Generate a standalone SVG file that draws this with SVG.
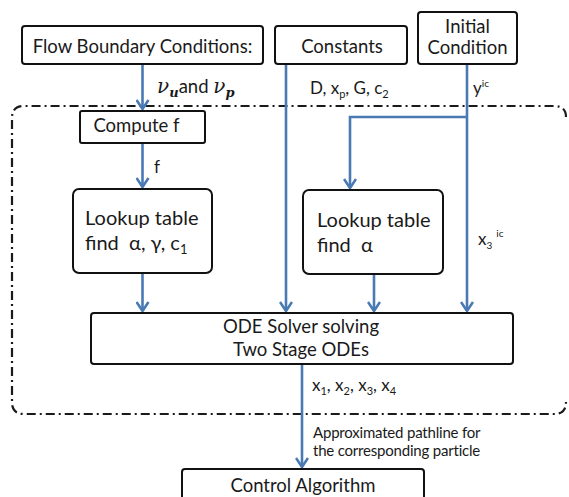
<svg xmlns="http://www.w3.org/2000/svg" width="569" height="497" viewBox="0 0 569 497">
  <defs>
    <style>
      .box { fill: #ffffff; stroke: #111111; stroke-width: 2; }
      .lbl { font-family: Lato, "Open Sans", sans-serif; fill: #1a1a1a; }
      .big { font-size: 18.5px; }
      .lookup { font-size: 20px; }
      .mid { font-size: 17px; }
      .small { font-size: 15px; }
      .math { font-family: "DejaVu Serif", "Liberation Serif", serif; font-style: italic; fill: #1a1a1a; }
      .wire { fill: none; stroke: #4a7ab4; stroke-width: 2.6; }
      .frame { fill: none; stroke: #1a1a1a; stroke-width: 2.2; stroke-dasharray: 9 4 2 4; }
    </style>
    <marker id="arrow" markerUnits="userSpaceOnUse" viewBox="0 0 12 14" refX="10" refY="7" markerWidth="12" markerHeight="14" orient="auto">
      <path d="M1,1 L10,7 L1,13" fill="none" stroke="#4a7ab4" stroke-width="2.6"/>
    </marker>
  </defs>

  <!-- dash-dot frame around the solver stage (right side runs off the canvas) -->
  <path class="frame" d="M566,117 Q566,106 554,106 H24 Q12,106 12,118 V402 Q12,414 24,414 H554 Q566,414 566,402"/>

  <!-- connectors -->
  <g id="connectors">
    <path class="wire" d="M142.5,64 V109" marker-end="url(#arrow)"/>
    <path class="wire" d="M142.5,143 V187" marker-end="url(#arrow)"/>
    <path class="wire" d="M142.5,273 V311" marker-end="url(#arrow)"/>
    <path class="wire" d="M286,64 V311" marker-end="url(#arrow)"/>
    <path class="wire" d="M467,117 H350 V188" marker-end="url(#arrow)"/>
    <path class="wire" d="M374,274 V311" marker-end="url(#arrow)"/>
    <path class="wire" d="M467,64 V311" marker-end="url(#arrow)"/>
    <path class="wire" d="M302,364 V467" marker-end="url(#arrow)"/>

    <text class="lbl" y="93"><tspan class="math" x="157" font-size="20">ν</tspan><tspan class="math" font-size="13" font-weight="bold" dy="4">u</tspan><tspan class="big" dy="-4">and </tspan><tspan class="math" font-size="20">ν</tspan><tspan class="math" font-size="13" font-weight="bold" dy="4">p</tspan></text>
    <text class="lbl mid" x="310" y="94">D, x<tspan font-size="11" dy="4">p</tspan><tspan dy="-4">, G, c</tspan><tspan font-size="11" dy="4">2</tspan></text>
    <text class="lbl mid" x="473" y="94">y<tspan font-size="10" dy="-7">ic</tspan></text>
    <text class="lbl mid" x="154" y="173">f</text>
    <text class="lbl mid" x="478" y="245">x<tspan font-size="10" dy="4">3</tspan><tspan font-size="10" dx="4" dy="-12">ic</tspan></text>
    <text class="lbl mid" x="312" y="391">x<tspan font-size="11" dy="4">1</tspan><tspan dy="-4">, x</tspan><tspan font-size="11" dy="4">2</tspan><tspan dy="-4">, x</tspan><tspan font-size="11" dy="4">3</tspan><tspan dy="-4">, x</tspan><tspan font-size="11" dy="4">4</tspan></text>
    <text class="lbl small" x="313" y="438" letter-spacing="-0.2">Approximated pathline for</text>
    <text class="lbl small" x="313" y="456" letter-spacing="-0.2">the corresponding particle</text>
  </g>

  <!-- nodes -->
  <g id="flow-boundary">
    <rect class="box" x="22" y="26" width="241" height="38" rx="3"/>
    <text class="lbl big" x="142.5" y="53" text-anchor="middle">Flow Boundary Conditions:</text>
  </g>
  <g id="constants">
    <rect class="box" x="275" y="26" width="132" height="38" rx="3"/>
    <text class="lbl big" x="342" y="53" text-anchor="middle">Constants</text>
  </g>
  <g id="initial-condition">
    <rect class="box" x="418" y="12" width="99" height="52" rx="3"/>
    <text class="lbl big" x="467.5" y="33" text-anchor="middle">Initial</text>
    <text class="lbl big" x="467.5" y="54" text-anchor="middle">Condition</text>
  </g>
  <g id="compute-f">
    <rect class="box" x="80" y="111" width="125" height="32" rx="2"/>
    <text class="lbl big" x="136.5" y="132" text-anchor="middle">Compute f</text>
  </g>
  <g id="lookup-left">
    <rect class="box" x="73" y="189" width="139" height="84" rx="6"/>
    <text class="lbl lookup" x="85" y="225">Lookup table</text>
    <text class="lbl lookup" x="85" y="250" xml:space="preserve">find  α, γ, c<tspan font-size="13" dy="4">1</tspan></text>
  </g>
  <g id="lookup-right">
    <rect class="box" x="303" y="190" width="140" height="84" rx="6"/>
    <text class="lbl lookup" x="317" y="227">Lookup table</text>
    <text class="lbl lookup" x="317" y="252" xml:space="preserve">find  α</text>
  </g>
  <g id="ode-solver">
    <rect class="box" x="91" y="313" width="422" height="51" rx="3"/>
    <text class="lbl big" x="301" y="333" text-anchor="middle">ODE Solver solving</text>
    <text class="lbl big" x="301" y="356" text-anchor="middle">Two Stage ODEs</text>
  </g>
  <g id="control-algorithm">
    <rect class="box" x="182" y="469" width="242" height="40" rx="3"/>
    <text class="lbl big" x="303" y="492" text-anchor="middle">Control Algorithm</text>
  </g>
</svg>
